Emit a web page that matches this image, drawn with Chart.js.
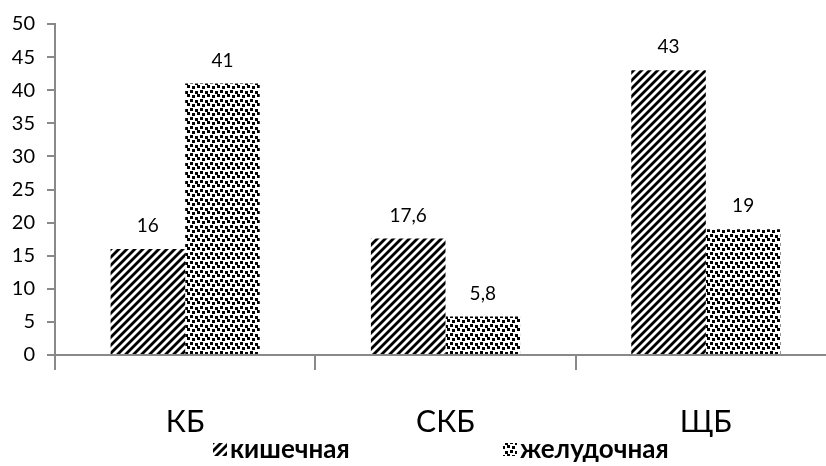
<!DOCTYPE html>
<html>
<head>
<meta charset="utf-8">
<script src="https://cdn.jsdelivr.net/npm/chart.js@4/dist/chart.umd.min.js"></script>
<style>
  html, body { margin: 0; padding: 0; background: #fff; overflow: hidden; }
  #chart { display: block; }
</style>
</head>
<body>
<!-- the plot runs a little past the right edge of the window -->
<canvas id="chart" width="836" height="466"></canvas>
<script>
const categories = ["КБ", "СКБ", "ЩБ"];
const seriesNames = ["кишечная", "желудочная"];
const intestinal = [16, 17.6, 43];
const gastric = [41, 5.8, 19];
const yTicks = [0, 5, 10, 15, 20, 25, 30, 35, 40, 45, 50];

const FONT = "Lato, 'Open Sans', sans-serif";
const AXIS_GRAY = "#898989";

// diagonal black hatching
function makeHatch() {
    const c = document.createElement("canvas");
    c.width = 8; c.height = 8;
    const g = c.getContext("2d");
    g.fillStyle = "#fff";
    g.fillRect(0, 0, 8, 8);
    g.strokeStyle = "#000";
    g.lineWidth = 2.8;
    for (let k = -1; k <= 1; k++) {
        g.beginPath();
        g.moveTo(k * 8 - 1, 9);
        g.lineTo(k * 8 + 9, -1);
        g.stroke();
    }
    return g.createPattern(c, "repeat");
}

// staggered small dots
function makeDots() {
    const c = document.createElement("canvas");
    c.width = 10; c.height = 9;
    const g = c.getContext("2d");
    g.fillStyle = "#fff";
    g.fillRect(0, 0, 10, 9);
    g.fillStyle = "#000";
    [[0, 0], [5, 1], [2, 5], [7, 4]].forEach(([x, y]) => g.fillRect(x, y, 3, 3));
    return g.createPattern(c, "repeat");
}

const hatch = makeHatch();
const dots = makeDots();

const valueLabels = {
    id: "valueLabels",
    afterDatasetsDraw(chart) {
        const ctx = chart.ctx;
        ctx.save();
        ctx.font = `19px ${FONT}`;
        ctx.fillStyle = "#000";
        ctx.textAlign = "center";
        ctx.textBaseline = "middle";
        chart.data.datasets.forEach((ds, i) => {
            chart.getDatasetMeta(i).data.forEach((bar, j) => {
                const text = String(ds.data[j]).replace(".", ",");
                ctx.fillText(text, bar.x, bar.y - 23);
            });
        });
        ctx.restore();
    }
};

// legend drawn by hand so the two entries sit where they belong
const patternLegend = {
    id: "patternLegend",
    afterDraw(chart) {
        const ctx = chart.ctx;
        const y = 451;
        const starts = [213, 503];
        ctx.save();
        ctx.font = `bold 26px ${FONT}`;
        ctx.textBaseline = "middle";
        ctx.textAlign = "left";
        chart.data.datasets.forEach((ds, i) => {
            const x = starts[i];
            ctx.fillStyle = ds.backgroundColor;
            ctx.fillRect(x, y - 8, 14, 13);
            ctx.fillStyle = "#000";
            ctx.fillText(ds.label, x + 17, y - 1);
        });
        ctx.restore();
    }
};

new Chart(document.getElementById("chart"), {
    type: "bar",
    data: {
        labels: categories,
        datasets: [
            { label: seriesNames[0], data: intestinal, backgroundColor: hatch, borderWidth: 0 },
            { label: seriesNames[1], data: gastric, backgroundColor: dots, borderWidth: 0 }
        ]
    },
    options: {
        responsive: false,
        animation: false,
        events: [],
        layout: { padding: { top: 21, right: 0, bottom: 11, left: 0 } },
        datasets: {
            bar: { barPercentage: 1, categoryPercentage: 0.573 }
        },
        plugins: {
            legend: { display: false },
            tooltip: { enabled: false }
        },
        scales: {
            x: {
                grid: {
                    offset: true,
                    drawOnChartArea: false,
                    tickLength: 15,
                    color: AXIS_GRAY,
                    lineWidth: 2
                },
                border: { color: AXIS_GRAY, width: 2 },
                ticks: {
                    color: "#000",
                    font: { family: FONT, size: 30 },
                    padding: 34
                },
                afterFit(scale) { scale.height = 100; }
            },
            y: {
                min: 0,
                max: 50,
                afterBuildTicks(scale) { scale.ticks = yTicks.map(v => ({ value: v })); },
                grid: {
                    drawOnChartArea: false,
                    tickLength: 8,
                    color: AXIS_GRAY,
                    lineWidth: 2
                },
                border: { color: AXIS_GRAY, width: 2 },
                ticks: {
                    color: "#000",
                    font: { family: FONT, size: 20 },
                    padding: 12
                },
                afterFit(scale) { scale.width = 55; }
            }
        }
    },
    plugins: [valueLabels, patternLegend]
});
</script>
</body>
</html>
